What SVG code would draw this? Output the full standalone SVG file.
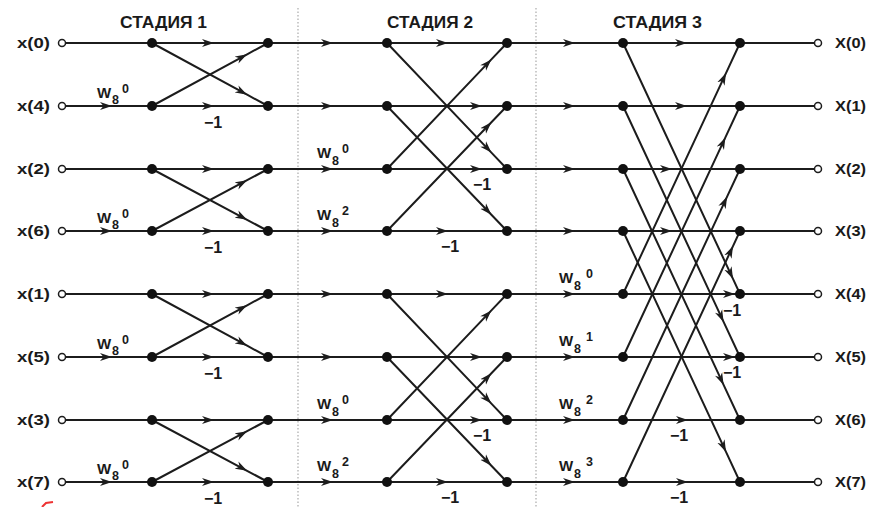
<svg xmlns="http://www.w3.org/2000/svg" width="870" height="507" viewBox="0 0 870 507">
<style>
.ln{fill:none;stroke:#1c1c1c;stroke-width:2;marker-mid:url(#ar)}
.dv{stroke:#aaa;stroke-width:1.2;stroke-dasharray:1.5 2}
.dot{fill:#111}
.io{fill:#fff;stroke:#1c1c1c;stroke-width:1.5}
text{font-family:"Liberation Sans",Arial,sans-serif;font-weight:bold;fill:#1a1a1a}
.lb{font-size:15px}
.tt{font-size:16px}
.w{font-size:15px}
.s{font-size:12.5px}
.m{font-size:16px;text-anchor:middle}
</style>
<defs>
<marker id="ar" markerUnits="userSpaceOnUse" markerWidth="13" markerHeight="9" viewBox="-12 -4.5 13 9" refX="0" refY="0" orient="auto">
<path d="M0,0 L-12,-4 L-8.5,0 L-12,4 Z" fill="#1c1c1c"/>
</marker>
</defs>
<rect width="870" height="507" fill="#fff"/>
<g id="dividers">
<line class="dv" x1="298" y1="8" x2="298" y2="507"/>
<line class="dv" x1="536" y1="8" x2="536" y2="507"/>
</g>
<g id="titles">
<text class="tt" x="120" y="28" textLength="87" lengthAdjust="spacingAndGlyphs">СТАДИЯ 1</text>
<text class="tt" x="387" y="28" textLength="86" lengthAdjust="spacingAndGlyphs">СТАДИЯ 2</text>
<text class="tt" x="613" y="28" textLength="89" lengthAdjust="spacingAndGlyphs">СТАДИЯ 3</text>
</g>
<g id="connectors">
<path class="ln" d="M62,43 L214,43 L333,43 L448,43 L575,43 L687,43 L818,43"/>
<path class="ln" d="M62,106 L112,106 L214,106 L333,106 L482,106 L575,106 L687,106 L818,106"/>
<path class="ln" d="M62,169 L214,169 L333,169 L482,169 L575,169 L672,169 L818,169"/>
<path class="ln" d="M62,231 L112,231 L214,231 L333,231 L448,231 L575,231 L672,231 L818,231"/>
<path class="ln" d="M62,294 L214,294 L333,294 L448,294 L575,294 L735,294 L818,294"/>
<path class="ln" d="M62,357 L112,357 L214,357 L333,357 L482,357 L575,357 L735,357 L818,357"/>
<path class="ln" d="M62,420 L214,420 L333,420 L482,420 L575,420 L688,420 L818,420"/>
<path class="ln" d="M62,482 L112,482 L214,482 L333,482 L448,482 L575,482 L688,482 L818,482"/>
<!-- stage 1 -->
<path class="ln" d="M152,43 L247.1,94.7 L268,106"/>
<path class="ln" d="M152,106 L247.1,54.3 L268,43"/>
<path class="ln" d="M152,169 L247.1,219.8 L268,231"/>
<path class="ln" d="M152,231 L247.1,180.2 L268,169"/>
<path class="ln" d="M152,294 L247.1,345.7 L268,357"/>
<path class="ln" d="M152,357 L247.1,305.3 L268,294"/>
<path class="ln" d="M152,420 L247.1,470.8 L268,482"/>
<path class="ln" d="M152,482 L247.1,431.2 L268,420"/>
<!-- stage 2 -->
<path class="ln" d="M387,43 L491.4,152.6 L507,169"/>
<path class="ln" d="M387,169 L491.4,59.4 L507,43"/>
<path class="ln" d="M387,106 L491.4,214.75 L507,231"/>
<path class="ln" d="M387,231 L491.4,122.25 L507,106"/>
<path class="ln" d="M387,294 L491.4,403.6 L507,420"/>
<path class="ln" d="M387,420 L491.4,310.4 L507,294"/>
<path class="ln" d="M387,357 L491.4,465.75 L507,482"/>
<path class="ln" d="M387,482 L491.4,373.25 L507,357"/>
<!-- stage 3 -->
<path class="ln" d="M623,43 L733,278.9 L740,294"/>
<path class="ln" d="M623,106 L723.6,321.9 L740,357"/>
<path class="ln" d="M623,169 L723.6,384.9 L740,420"/>
<path class="ln" d="M623,231 L726,451.9 L740,482"/>
<path class="ln" d="M623,294 L726,73.1 L740,43"/>
<path class="ln" d="M623,357 L725.4,137.4 L740,106"/>
<path class="ln" d="M623,420 L727.1,196.6 L740,169"/>
<path class="ln" d="M623,482 L733,246.1 L740,231"/>
</g>
<g id="nodes-in">
<g id="in0"><circle class="io" cx="62" cy="43" r="3.5"/><text class="lb" x="17" y="48" textLength="33" lengthAdjust="spacingAndGlyphs">x(0)</text></g>
<g id="in4"><circle class="io" cx="62" cy="106" r="3.5"/><text class="lb" x="17" y="111" textLength="33" lengthAdjust="spacingAndGlyphs">x(4)</text></g>
<g id="in2"><circle class="io" cx="62" cy="169" r="3.5"/><text class="lb" x="17" y="174" textLength="33" lengthAdjust="spacingAndGlyphs">x(2)</text></g>
<g id="in6"><circle class="io" cx="62" cy="231" r="3.5"/><text class="lb" x="17" y="236" textLength="33" lengthAdjust="spacingAndGlyphs">x(6)</text></g>
<g id="in1"><circle class="io" cx="62" cy="294" r="3.5"/><text class="lb" x="17" y="299" textLength="33" lengthAdjust="spacingAndGlyphs">x(1)</text></g>
<g id="in5"><circle class="io" cx="62" cy="357" r="3.5"/><text class="lb" x="17" y="362" textLength="33" lengthAdjust="spacingAndGlyphs">x(5)</text></g>
<g id="in3"><circle class="io" cx="62" cy="420" r="3.5"/><text class="lb" x="17" y="425" textLength="33" lengthAdjust="spacingAndGlyphs">x(3)</text></g>
<g id="in7"><circle class="io" cx="62" cy="482" r="3.5"/><text class="lb" x="17" y="487" textLength="33" lengthAdjust="spacingAndGlyphs">x(7)</text></g>
</g>
<g id="nodes-out">
<g id="out0"><circle class="io" cx="818" cy="43" r="3.5"/><text class="lb" x="835" y="48" textLength="31" lengthAdjust="spacingAndGlyphs">X(0)</text></g>
<g id="out1"><circle class="io" cx="818" cy="106" r="3.5"/><text class="lb" x="835" y="111" textLength="31" lengthAdjust="spacingAndGlyphs">X(1)</text></g>
<g id="out2"><circle class="io" cx="818" cy="169" r="3.5"/><text class="lb" x="835" y="174" textLength="31" lengthAdjust="spacingAndGlyphs">X(2)</text></g>
<g id="out3"><circle class="io" cx="818" cy="231" r="3.5"/><text class="lb" x="835" y="236" textLength="31" lengthAdjust="spacingAndGlyphs">X(3)</text></g>
<g id="out4"><circle class="io" cx="818" cy="294" r="3.5"/><text class="lb" x="835" y="299" textLength="31" lengthAdjust="spacingAndGlyphs">X(4)</text></g>
<g id="out5"><circle class="io" cx="818" cy="357" r="3.5"/><text class="lb" x="835" y="362" textLength="31" lengthAdjust="spacingAndGlyphs">X(5)</text></g>
<g id="out6"><circle class="io" cx="818" cy="420" r="3.5"/><text class="lb" x="835" y="425" textLength="31" lengthAdjust="spacingAndGlyphs">X(6)</text></g>
<g id="out7"><circle class="io" cx="818" cy="482" r="3.5"/><text class="lb" x="835" y="487" textLength="31" lengthAdjust="spacingAndGlyphs">X(7)</text></g>
</g>
<g id="nodes-stage1">
<circle class="dot" cx="152" cy="43" r="5"/><circle class="dot" cx="268" cy="43" r="5"/>
<circle class="dot" cx="152" cy="106" r="5"/><circle class="dot" cx="268" cy="106" r="5"/>
<circle class="dot" cx="152" cy="169" r="5"/><circle class="dot" cx="268" cy="169" r="5"/>
<circle class="dot" cx="152" cy="231" r="5"/><circle class="dot" cx="268" cy="231" r="5"/>
<circle class="dot" cx="152" cy="294" r="5"/><circle class="dot" cx="268" cy="294" r="5"/>
<circle class="dot" cx="152" cy="357" r="5"/><circle class="dot" cx="268" cy="357" r="5"/>
<circle class="dot" cx="152" cy="420" r="5"/><circle class="dot" cx="268" cy="420" r="5"/>
<circle class="dot" cx="152" cy="482" r="5"/><circle class="dot" cx="268" cy="482" r="5"/>
</g>
<g id="nodes-stage2">
<circle class="dot" cx="387" cy="43" r="5"/><circle class="dot" cx="507" cy="43" r="5"/>
<circle class="dot" cx="387" cy="106" r="5"/><circle class="dot" cx="507" cy="106" r="5"/>
<circle class="dot" cx="387" cy="169" r="5"/><circle class="dot" cx="507" cy="169" r="5"/>
<circle class="dot" cx="387" cy="231" r="5"/><circle class="dot" cx="507" cy="231" r="5"/>
<circle class="dot" cx="387" cy="294" r="5"/><circle class="dot" cx="507" cy="294" r="5"/>
<circle class="dot" cx="387" cy="357" r="5"/><circle class="dot" cx="507" cy="357" r="5"/>
<circle class="dot" cx="387" cy="420" r="5"/><circle class="dot" cx="507" cy="420" r="5"/>
<circle class="dot" cx="387" cy="482" r="5"/><circle class="dot" cx="507" cy="482" r="5"/>
</g>
<g id="nodes-stage3">
<circle class="dot" cx="623" cy="43" r="5"/><circle class="dot" cx="740" cy="43" r="5"/>
<circle class="dot" cx="623" cy="106" r="5"/><circle class="dot" cx="740" cy="106" r="5"/>
<circle class="dot" cx="623" cy="169" r="5"/><circle class="dot" cx="740" cy="169" r="5"/>
<circle class="dot" cx="623" cy="231" r="5"/><circle class="dot" cx="740" cy="231" r="5"/>
<circle class="dot" cx="623" cy="294" r="5"/><circle class="dot" cx="740" cy="294" r="5"/>
<circle class="dot" cx="623" cy="357" r="5"/><circle class="dot" cx="740" cy="357" r="5"/>
<circle class="dot" cx="623" cy="420" r="5"/><circle class="dot" cx="740" cy="420" r="5"/>
<circle class="dot" cx="623" cy="482" r="5"/><circle class="dot" cx="740" cy="482" r="5"/>
</g>
<g id="twiddles">
<text class="w" x="97" y="98">W</text><text class="s" x="112" y="104">8</text><text class="s" x="122" y="93">0</text>
<text class="w" x="97" y="223">W</text><text class="s" x="112" y="229">8</text><text class="s" x="122" y="218">0</text>
<text class="w" x="97" y="349">W</text><text class="s" x="112" y="355">8</text><text class="s" x="122" y="344">0</text>
<text class="w" x="97" y="474">W</text><text class="s" x="112" y="480">8</text><text class="s" x="122" y="469">0</text>
<text class="w" x="317" y="158">W</text><text class="s" x="332" y="165">8</text><text class="s" x="342" y="153">0</text>
<text class="w" x="317" y="220">W</text><text class="s" x="332" y="227">8</text><text class="s" x="342" y="215">2</text>
<text class="w" x="317" y="409">W</text><text class="s" x="332" y="416">8</text><text class="s" x="342" y="404">0</text>
<text class="w" x="317" y="471">W</text><text class="s" x="332" y="478">8</text><text class="s" x="342" y="466">2</text>
<text class="w" x="559" y="283">W</text><text class="s" x="574" y="290">8</text><text class="s" x="586" y="278">0</text>
<text class="w" x="559" y="346">W</text><text class="s" x="574" y="353">8</text><text class="s" x="586" y="341">1</text>
<text class="w" x="559" y="409">W</text><text class="s" x="574" y="416">8</text><text class="s" x="586" y="404">2</text>
<text class="w" x="559" y="471">W</text><text class="s" x="574" y="478">8</text><text class="s" x="586" y="466">3</text>
</g>
<g id="minus-labels">
<text class="m" x="213" y="128">−1</text>
<text class="m" x="213" y="253">−1</text>
<text class="m" x="213" y="379">−1</text>
<text class="m" x="213" y="504">−1</text>
<text class="m" x="482" y="190">−1</text>
<text class="m" x="450" y="252">−1</text>
<text class="m" x="482" y="441">−1</text>
<text class="m" x="450" y="503">−1</text>
<text class="m" x="732" y="316">−1</text>
<text class="m" x="732" y="378">−1</text>
<text class="m" x="679" y="441">−1</text>
<text class="m" x="679" y="503">−1</text>
</g>
<path d="M42,507 L46,503 L53,502" fill="none" stroke="#e33" stroke-width="2"/>
</svg>
